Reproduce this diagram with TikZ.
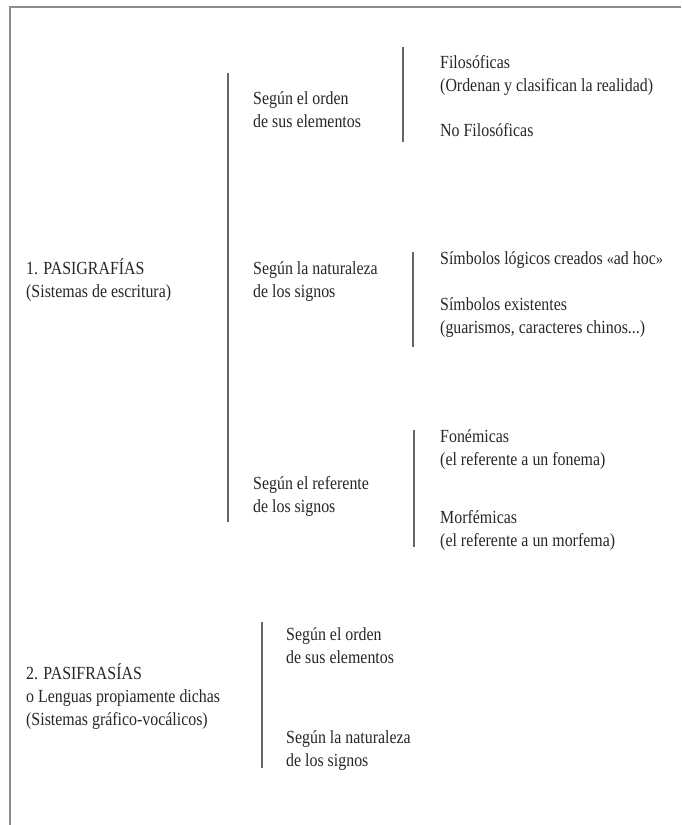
\documentclass[tikz,border=0pt]{standalone}
\usepackage{fontspec}
\setmainfont{Liberation Serif}[FakeStretch=0.86]
\newcommand{\lines}[1]{\begin{tabular}[t]{@{}l@{}}#1\end{tabular}}
\newcommand{\gq}[1]{{\fontsize{16.5}{16.5}\selectfont#1}}
\begin{document}
\begin{tikzpicture}[x=1pt,y=-1pt,
  txt/.style={anchor=base west,inner sep=0pt,text=black!85,
    font=\fontsize{18.5}{23}\selectfont},
  bar/.style={draw=black!60,line width=1.8pt},
  frame/.style={draw=black!45,line width=1.3pt}]
\useasboundingbox (0,0) rectangle (681,825);
% frame
\draw[frame] (10,825) -- (10,7) -- (681,7);
% bars
\coordinate (b1t) at (228,73);  \coordinate (b1b) at (228,522);
\coordinate (b2t) at (403,47);  \coordinate (b2b) at (403,142);
\coordinate (b3t) at (413,252); \coordinate (b3b) at (413,347);
\coordinate (b4t) at (414,430); \coordinate (b4b) at (414,547);
\coordinate (b5t) at (262,622); \coordinate (b5b) at (262,768);
\draw[bar] (b1t) -- (b1b);
\draw[bar] (b2t) -- (b2b);
\draw[bar] (b3t) -- (b3b);
\draw[bar] (b4t) -- (b4b);
\draw[bar] (b5t) -- (b5b);
% level 1
\node[txt] (pasig) at (26,274) {\lines{1. PASIGRAFÍAS\\(Sistemas de escritura)}};
\node[txt] (pasif) at (26,679) {\lines{2. PASIFRASÍAS\\o Lenguas propiamente dichas\\(Sistemas gráfico-vocálicos)}};
% level 2 (upper)
\node[txt] (orden1) at (253,104) {\lines{Según el orden\\de sus elementos}};
\node[txt] (nat1) at (253,274) {\lines{Según la naturaleza\\de los signos}};
\node[txt] (ref1) at (253,489) {\lines{Según el referente\\de los signos}};
% level 2 (lower)
\node[txt] (orden2) at (286,640) {\lines{Según el orden\\de sus elementos}};
\node[txt] (nat2) at (286,743) {\lines{Según la naturaleza\\de los signos}};
% level 3
\node[txt] (filo) at (440,68) {\lines{Filosóficas\\(Ordenan y clasifican la realidad)}};
\node[txt] (nofilo) at (440,136) {No Filosóficas};
\node[txt] (simlog) at (440,264) {Símbolos lógicos creados \gq{«}ad hoc\gq{»}};
\node[txt] (simex) at (440,310) {\lines{Símbolos existentes\\(guarismos, caracteres chinos...)}};
\node[txt] (fon) at (440,442) {\lines{Fonémicas\\(el referente a un fonema)}};
\node[txt] (morf) at (440,523) {\lines{Morfémicas\\(el referente a un morfema)}};
\end{tikzpicture}
\end{document}
